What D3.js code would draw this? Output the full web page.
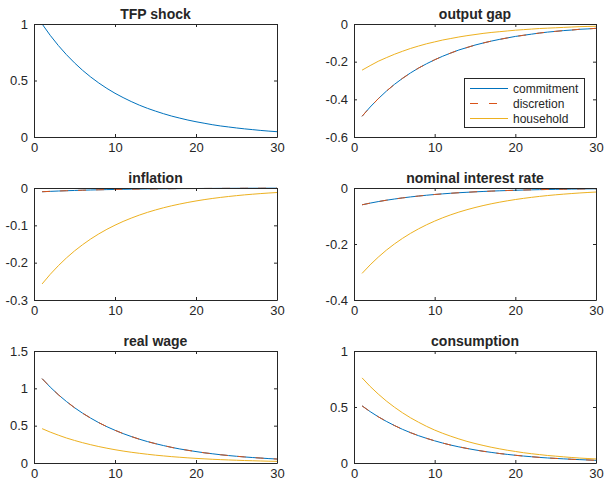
<!DOCTYPE html>
<meta charset="utf-8">
<script src="https://d3js.org/d3.v7.min.js"></script>
<style>
  body { margin: 0; background: #fff; }
  text { font-family: "Liberation Sans", Arial, sans-serif; fill: #262626; }
</style>
<div id="fig"></div>
<script>

// periods after the shock
var periods = [1,2,3,4,5,6,7,8,9,10,11,12,13,14,15,16,17,18,19,20,21,22,23,24,25,26,27,28,29,30];
var xTicks = [0, 10, 20, 30];

var seriesNames = ["commitment", "discretion", "household"];

var tfp = [1.000,0.900,0.810,0.729,0.656,0.590,0.531,0.478,0.430,0.387,0.349,0.314,0.282,0.254,0.229,0.206,0.185,0.167,0.150,0.135,0.122,0.109,0.098,0.089,0.080,0.072,0.065,0.058,0.052,0.047];

var gapCommit = [-0.490,-0.441,-0.397,-0.357,-0.321,-0.289,-0.260,-0.234,-0.211,-0.190,-0.171,-0.154,-0.138,-0.125,-0.112,-0.101,-0.091,-0.082,-0.074,-0.066,-0.060,-0.054,-0.048,-0.043,-0.039,-0.035,-0.032,-0.028,-0.026,-0.023];
var gapDiscr  = [-0.490,-0.441,-0.397,-0.357,-0.321,-0.289,-0.260,-0.234,-0.211,-0.190,-0.171,-0.154,-0.138,-0.125,-0.112,-0.101,-0.091,-0.082,-0.074,-0.066,-0.060,-0.054,-0.048,-0.043,-0.039,-0.035,-0.032,-0.028,-0.026,-0.023];
var gapHouse  = [-0.245,-0.221,-0.198,-0.179,-0.161,-0.145,-0.130,-0.117,-0.105,-0.095,-0.085,-0.077,-0.069,-0.062,-0.056,-0.050,-0.045,-0.041,-0.037,-0.033,-0.030,-0.027,-0.024,-0.022,-0.020,-0.018,-0.016,-0.014,-0.013,-0.012];

var inflCommit = [-0.0100,-0.0090,-0.0081,-0.0073,-0.0066,-0.0059,-0.0053,-0.0048,-0.0043,-0.0039,-0.0035,-0.0031,-0.0028,-0.0025,-0.0023,-0.0021,-0.0019,-0.0017,-0.0015,-0.0014,-0.0012,-0.0011,-0.0010,-0.0009,-0.0008,-0.0007,-0.0006,-0.0006,-0.0005,-0.0005];
var inflDiscr  = [-0.0100,-0.0090,-0.0081,-0.0073,-0.0066,-0.0059,-0.0053,-0.0048,-0.0043,-0.0039,-0.0035,-0.0031,-0.0028,-0.0025,-0.0023,-0.0021,-0.0019,-0.0017,-0.0015,-0.0014,-0.0012,-0.0011,-0.0010,-0.0009,-0.0008,-0.0007,-0.0006,-0.0006,-0.0005,-0.0005];
var inflHouse  = [-0.2570,-0.2313,-0.2082,-0.1874,-0.1686,-0.1518,-0.1366,-0.1229,-0.1106,-0.0996,-0.0896,-0.0807,-0.0726,-0.0653,-0.0588,-0.0529,-0.0476,-0.0429,-0.0386,-0.0347,-0.0312,-0.0281,-0.0253,-0.0228,-0.0205,-0.0184,-0.0166,-0.0149,-0.0134,-0.0121];

var rateCommit = [-0.0600,-0.0540,-0.0486,-0.0437,-0.0394,-0.0354,-0.0319,-0.0287,-0.0258,-0.0232,-0.0209,-0.0188,-0.0169,-0.0153,-0.0137,-0.0124,-0.0111,-0.0100,-0.0090,-0.0081,-0.0073,-0.0066,-0.0059,-0.0053,-0.0048,-0.0043,-0.0039,-0.0035,-0.0031,-0.0028];
var rateDiscr  = [-0.0600,-0.0540,-0.0486,-0.0437,-0.0394,-0.0354,-0.0319,-0.0287,-0.0258,-0.0232,-0.0209,-0.0188,-0.0169,-0.0153,-0.0137,-0.0124,-0.0111,-0.0100,-0.0090,-0.0081,-0.0073,-0.0066,-0.0059,-0.0053,-0.0048,-0.0043,-0.0039,-0.0035,-0.0031,-0.0028];
var rateHouse  = [-0.3050,-0.2745,-0.2471,-0.2223,-0.2001,-0.1801,-0.1621,-0.1459,-0.1313,-0.1182,-0.1063,-0.0957,-0.0861,-0.0775,-0.0698,-0.0628,-0.0565,-0.0509,-0.0458,-0.0412,-0.0371,-0.0334,-0.0300,-0.0270,-0.0243,-0.0219,-0.0197,-0.0177,-0.0160,-0.0144];

var wageCommit = [1.130,1.017,0.915,0.824,0.741,0.667,0.601,0.540,0.486,0.438,0.394,0.355,0.319,0.287,0.259,0.233,0.209,0.188,0.170,0.153,0.137,0.124,0.111,0.100,0.090,0.081,0.073,0.066,0.059,0.053];
var wageDiscr  = [1.130,1.017,0.915,0.824,0.741,0.667,0.601,0.540,0.486,0.438,0.394,0.355,0.319,0.287,0.259,0.233,0.209,0.188,0.170,0.153,0.137,0.124,0.111,0.100,0.090,0.081,0.073,0.066,0.059,0.053];
var wageHouse  = [0.460,0.414,0.373,0.335,0.302,0.272,0.245,0.220,0.198,0.178,0.160,0.144,0.130,0.117,0.105,0.095,0.085,0.077,0.069,0.062,0.056,0.050,0.045,0.041,0.037,0.033,0.030,0.027,0.024,0.022];

var consCommit = [0.510,0.459,0.413,0.372,0.335,0.301,0.271,0.244,0.220,0.198,0.178,0.160,0.144,0.130,0.117,0.105,0.095,0.085,0.077,0.069,0.062,0.056,0.050,0.045,0.041,0.037,0.033,0.030,0.027,0.024];
var consDiscr  = [0.510,0.459,0.413,0.372,0.335,0.301,0.271,0.244,0.220,0.198,0.178,0.160,0.144,0.130,0.117,0.105,0.095,0.085,0.077,0.069,0.062,0.056,0.050,0.045,0.041,0.037,0.033,0.030,0.027,0.024];
var consHouse  = [0.760,0.684,0.616,0.554,0.499,0.449,0.404,0.364,0.327,0.294,0.265,0.239,0.215,0.193,0.174,0.157,0.141,0.127,0.114,0.103,0.092,0.083,0.075,0.067,0.061,0.055,0.049,0.044,0.040,0.036];

var tfpTicks  = [0, 0.5, 1];
var gapTicks  = [-0.6, -0.4, -0.2, 0];
var inflTicks = [-0.3, -0.2, -0.1, 0];
var rateTicks = [-0.4, -0.2, 0];
var wageTicks = [0, 0.5, 1, 1.5];
var consTicks = [0, 0.5, 1];

var colors = { commitment: "#0072BD", discretion: "#D95319", household: "#EDB120" };

var panels = [
  { title: "TFP shock", ticks: tfpTicks, series: { commitment: tfp } },
  { title: "output gap", ticks: gapTicks, series: { commitment: gapCommit, discretion: gapDiscr, household: gapHouse }, legend: true },
  { title: "inflation", ticks: inflTicks, series: { commitment: inflCommit, discretion: inflDiscr, household: inflHouse } },
  { title: "nominal interest rate", ticks: rateTicks, series: { commitment: rateCommit, discretion: rateDiscr, household: rateHouse } },
  { title: "real wage", ticks: wageTicks, series: { commitment: wageCommit, discretion: wageDiscr, household: wageHouse } },
  { title: "consumption", ticks: consTicks, series: { commitment: consCommit, discretion: consDiscr, household: consHouse } }
];

var W = 606, H = 483;
var colLeft = [34, 354], colWidth = [243, 242];
var rowTop = [24, 188, 351], rowHeight = [113, 112, 112];
var axisColor = "#262626";

var svg = d3.select("#fig").append("svg")
  .attr("width", W).attr("height", H);

// MATLAB style labels: plain hyphen for negatives
function fmt(v) { return d3.format("~g")(v).replace("\u2212", "-"); }

panels.forEach(function(p, i) {
  var c = i % 2, r = Math.floor(i / 2);
  var w = colWidth[c], h = rowHeight[r];
  var g = svg.append("g").attr("transform", "translate(" + colLeft[c] + "," + rowTop[r] + ")");

  var x = d3.scaleLinear().domain([0, 30]).range([0, w]);
  var y = d3.scaleLinear().domain(d3.extent(p.ticks)).range([h, 0]);

  var line = d3.line().x(function(d, k) { return x(periods[k]); }).y(function(d) { return y(d); });
  seriesNames.forEach(function(name) {
    if (!p.series[name]) return;
    g.append("path")
      .datum(p.series[name])
      .attr("fill", "none")
      .attr("stroke", colors[name])
      .attr("stroke-width", 1)
      .attr("stroke-dasharray", name === "discretion" ? "8,10" : null)
      .attr("d", line);
  });

  // axes, box with inward ticks on all four sides
  var xb = g.append("g").attr("transform", "translate(0," + h + ")")
    .call(d3.axisBottom(x).tickValues(xTicks).tickSizeInner(-3).tickSizeOuter(0).tickPadding(6).tickFormat(fmt));
  var xt = g.append("g")
    .call(d3.axisTop(x).tickValues(xTicks).tickSizeInner(-3).tickSizeOuter(0).tickFormat(""));
  var yl = g.append("g")
    .call(d3.axisLeft(y).tickValues(p.ticks).tickSizeInner(-3).tickSizeOuter(0).tickPadding(6).tickFormat(fmt));
  var yr = g.append("g").attr("transform", "translate(" + w + ",0)")
    .call(d3.axisRight(y).tickValues(p.ticks).tickSizeInner(-3).tickSizeOuter(0).tickFormat(""));

  [xb, xt, yl, yr].forEach(function(a) {
    a.select(".domain").attr("stroke", axisColor);
    a.selectAll(".tick line").attr("stroke", axisColor);
    a.selectAll(".tick text").attr("fill", axisColor)
      .style("font-family", "'Liberation Sans', Arial, sans-serif").style("font-size", "13px");
  });

  g.append("text")
    .attr("x", w / 2).attr("y", -5)
    .attr("text-anchor", "middle")
    .style("font-size", "14px").style("font-weight", "bold")
    .text(p.title);

  if (p.legend) {
    var lg = g.append("g").attr("transform", "translate(" + (w - 132) + "," + 54 + ")");
    lg.append("rect")
      .attr("x", 0.5).attr("y", 0.5).attr("width", 120).attr("height", 49)
      .attr("fill", "#fff").attr("stroke", axisColor).attr("stroke-width", 1);
    seriesNames.forEach(function(name, k) {
      var yy = 10.5 + k * 15;
      lg.append("line")
        .attr("x1", 6).attr("x2", 44).attr("y1", yy).attr("y2", yy)
        .attr("stroke", colors[name]).attr("stroke-width", 1)
        .attr("stroke-dasharray", name === "discretion" ? "8,11" : null);
      lg.append("text")
        .attr("x", 49).attr("y", yy).attr("dy", "0.35em")
        .style("font-size", "12px")
        .text(name);
    });
  }
});

</script>
